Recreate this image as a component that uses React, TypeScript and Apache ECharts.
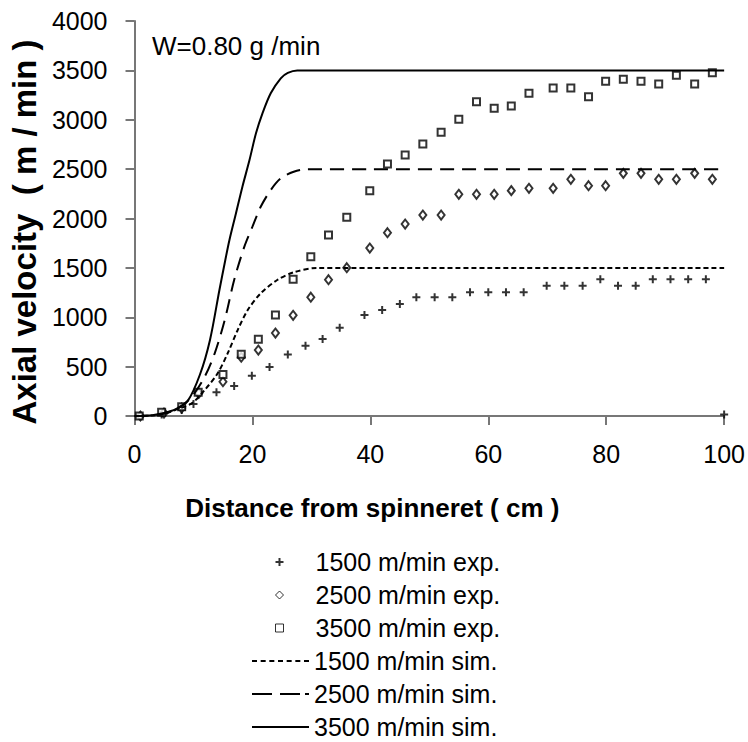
import React, { useEffect, useRef } from "react";
import * as echarts from "echarts";

const FONT = "'Liberation Sans', Arial, sans-serif";

const xTicks = { min: 0, max: 100, interval: 20 };
const yTicks = { min: 0, max: 4000, interval: 500 };

const legendNames = [
  "1500 m/min exp.",
  "2500 m/min exp.",
  "3500 m/min exp.",
  "1500 m/min sim.",
  "2500 m/min sim.",
  "3500 m/min sim.",
];

const exp1500: [number, number][] = [
  [1, 0], [4.6, 15], [8, 60], [10, 121], [13.9, 240], [16.9, 305], [19.9, 407],
  [22.9, 495], [26, 622], [29, 712], [31.9, 780], [34.8, 893], [39, 1023],
  [42, 1073], [45, 1134], [47.8, 1203], [50.9, 1202], [53.9, 1202], [56.9, 1252],
  [60, 1252], [63, 1252], [66, 1252], [69.9, 1320], [72.9, 1320], [76, 1320],
  [79, 1384], [82, 1320], [85, 1320], [87.9, 1384], [90.9, 1384], [93.9, 1384],
  [96.9, 1384], [100, 15],
];

const exp2500: [number, number][] = [
  [1, 0], [5, 30], [8, 80], [10.9, 230], [15, 347], [18.1, 595], [21, 668],
  [23.9, 840], [26.9, 1020], [29.9, 1203], [32.9, 1380], [36, 1502], [39.9, 1701],
  [42.9, 1856], [45.9, 1944], [48.9, 2035], [52, 2035], [55, 2245], [58, 2245],
  [61, 2245], [63.9, 2282], [66.9, 2306], [71, 2306], [74, 2397], [77, 2332],
  [79.9, 2332], [82.9, 2457], [85.9, 2457], [88.9, 2397], [91.9, 2397],
  [95, 2457], [98, 2397],
];

const exp3500: [number, number][] = [
  [0.8, 0], [4.6, 37], [8, 94], [10.8, 240], [15, 420], [18.1, 626], [21, 778],
  [23.9, 1023], [26.9, 1384], [29.9, 1613], [32.9, 1833], [36, 2012], [39.9, 2282],
  [42.9, 2552], [45.9, 2643], [48.9, 2754], [52, 2873], [55, 3005], [58, 3183],
  [61, 3116], [63.9, 3139], [66.9, 3268], [71, 3322], [74, 3322], [77, 3234],
  [79.9, 3389], [82.9, 3409], [85.9, 3389], [88.9, 3362], [91.9, 3450],
  [95, 3362], [98, 3477],
];

const sim1500: [number, number][] = [
  [0, 0], [3, 5], [5, 22], [6.9, 61], [9.7, 128], [11.9, 263], [14.1, 432],
  [15.8, 635], [17.5, 871], [19.2, 1073], [21.4, 1242], [24.2, 1377], [27, 1455],
  [30.9, 1500], [40, 1500], [60, 1500], [80, 1500], [100, 1500],
];

const sim2500: [number, number][] = [
  [0, 0], [3, 6], [5, 25], [7.4, 78], [9.7, 195], [11.9, 398], [13.6, 635],
  [15.3, 972], [16.9, 1377], [18.6, 1710], [20, 1917], [21.4, 2119], [23.1, 2288],
  [24.8, 2406], [27, 2474], [29.2, 2500], [40, 2500], [60, 2500], [80, 2500],
  [100, 2500],
];

const sim3500: [number, number][] = [
  [0, 0], [3, 8], [5, 30], [7, 70], [9, 150], [11.1, 420], [12.8, 770],
  [14.4, 1276], [15.4, 1580], [16.1, 1782], [17.2, 2051], [18.3, 2322],
  [19.5, 2592], [20.6, 2863], [21.7, 3065], [23.1, 3268], [24.8, 3420],
  [26, 3475], [27.6, 3500], [40, 3500], [60, 3500], [80, 3500], [100, 3500],
];

const PLUS = "path://M3.75,0H6.25V3.75H10V6.25H6.25V10H3.75V6.25H0V3.75H3.75Z";
const ICON_DOTTED =
  "path://M0,0h5v2h-5zM8.67,0h5v2h-5zM17.33,0h5v2h-5zM26,0h5v2h-5zM34.67,0h5v2h-5zM43.33,0h5v2h-5zM52,0h5v2h-5z";
const ICON_DASHED = "path://M0,0h20v2h-20zM28,0h20v2h-20zM53,0h4v2h-4z";
const ICON_SOLID = "path://M0,0h57v2h-57z";

export default function App() {
  const ref = useRef<HTMLDivElement>(null);
  useEffect(() => {
    document.body.style.margin = "0";
    const chart = echarts.init(ref.current!, null, { renderer: "svg" });
    const axisLineStyle = { color: "#777", width: 2 };
    const legendText = { fontSize: 25, lineHeight: 28, color: "#000", fontFamily: FONT };
    chart.setOption({
      animation: false,
      backgroundColor: "#fff",
      grid: { left: 129, right: 23, top: 21, bottom: 326 },
      xAxis: {
        type: "value",
        ...xTicks,
        name: "Distance from spinneret ( cm )",
        nameLocation: "middle",
        nameGap: 79,
        nameTextStyle: {
          fontFamily: FONT,
          fontWeight: "bold",
          fontSize: 26,
          color: "#000",
          padding: [0, 114, 0, 0],
        },
        axisLine: { lineStyle: axisLineStyle },
        axisTick: { length: 9, lineStyle: axisLineStyle },
        axisLabel: { fontSize: 25, color: "#000", margin: 25, fontFamily: FONT },
        splitLine: { show: false },
      },
      yAxis: {
        type: "value",
        ...yTicks,
        name: "Axial velocity  ( m / min )",
        nameLocation: "middle",
        nameGap: 86,
        nameRotate: 90,
        nameTextStyle: {
          fontFamily: FONT,
          fontWeight: "bold",
          fontSize: 33,
          color: "#000",
          padding: [0, 27, 0, 0],
        },
        axisLine: { show: true, lineStyle: axisLineStyle },
        axisTick: { show: true, length: 9, lineStyle: axisLineStyle },
        axisLabel: {
          fontSize: 25,
          color: "#000",
          margin: 27,
          fontFamily: FONT,
          formatter: (v: number) => String(v),
        },
        splitLine: { show: false },
      },
      legend: [
        {
          orient: "vertical",
          left: 275,
          top: 548,
          padding: 0,
          itemWidth: 8,
          itemHeight: 8,
          itemGap: 5,
          selectedMode: false,
          textStyle: { ...legendText, padding: [0, 0, 0, 27] },
          data: [
            { name: legendNames[0] },
            { name: legendNames[1], itemStyle: { borderWidth: 1 } },
            { name: legendNames[2], itemStyle: { borderWidth: 1 } },
          ],
        },
        {
          orient: "vertical",
          left: 252,
          top: 647,
          padding: 0,
          itemWidth: 57,
          itemHeight: 2,
          itemGap: 5,
          selectedMode: false,
          textStyle: legendText,
          data: [
            { name: legendNames[3], icon: ICON_DOTTED, itemStyle: { color: "#000" } },
            { name: legendNames[4], icon: ICON_DASHED, itemStyle: { color: "#000" } },
            { name: legendNames[5], icon: ICON_SOLID, itemStyle: { color: "#000" } },
          ],
        },
      ],
      graphic: [
        {
          type: "text",
          x: 152,
          y: 46,
          style: {
            text: "W=0.80 g /min",
            fontSize: 26,
            fontFamily: FONT,
            fill: "#000",
            verticalAlign: "middle",
            textVerticalAlign: "middle",
          },
        },
      ],
      series: [
        {
          name: legendNames[0],
          type: "scatter",
          data: exp1500,
          symbol: PLUS,
          symbolSize: 8,
          itemStyle: { color: "#000", borderWidth: 0 },
        },
        {
          name: legendNames[1],
          type: "scatter",
          data: exp2500,
          symbol: "diamond",
          symbolSize: [7, 9],
          itemStyle: { color: "#fff", borderColor: "#000", borderWidth: 2 },
        },
        {
          name: legendNames[2],
          type: "scatter",
          data: exp3500,
          symbol: "rect",
          symbolSize: 7,
          itemStyle: { color: "#fff", borderColor: "#000", borderWidth: 2 },
        },
        {
          name: legendNames[3],
          type: "line",
          data: sim1500,
          symbol: "none",
          smooth: 0.3,
          lineStyle: { color: "#000", width: 2, type: [5, 3] },
          itemStyle: { color: "#000" },
        },
        {
          name: legendNames[4],
          type: "line",
          data: sim2500,
          symbol: "none",
          smooth: 0.3,
          lineStyle: { color: "#000", width: 2, type: [14, 8] },
          itemStyle: { color: "#000" },
        },
        {
          name: legendNames[5],
          type: "line",
          data: sim3500,
          symbol: "none",
          smooth: 0.3,
          lineStyle: { color: "#000", width: 2, type: "solid" },
          itemStyle: { color: "#000" },
        },
      ],
    });
    return () => chart.dispose();
  }, []);
  return <div ref={ref} style={{ width: 748, height: 742 }} />;
}
